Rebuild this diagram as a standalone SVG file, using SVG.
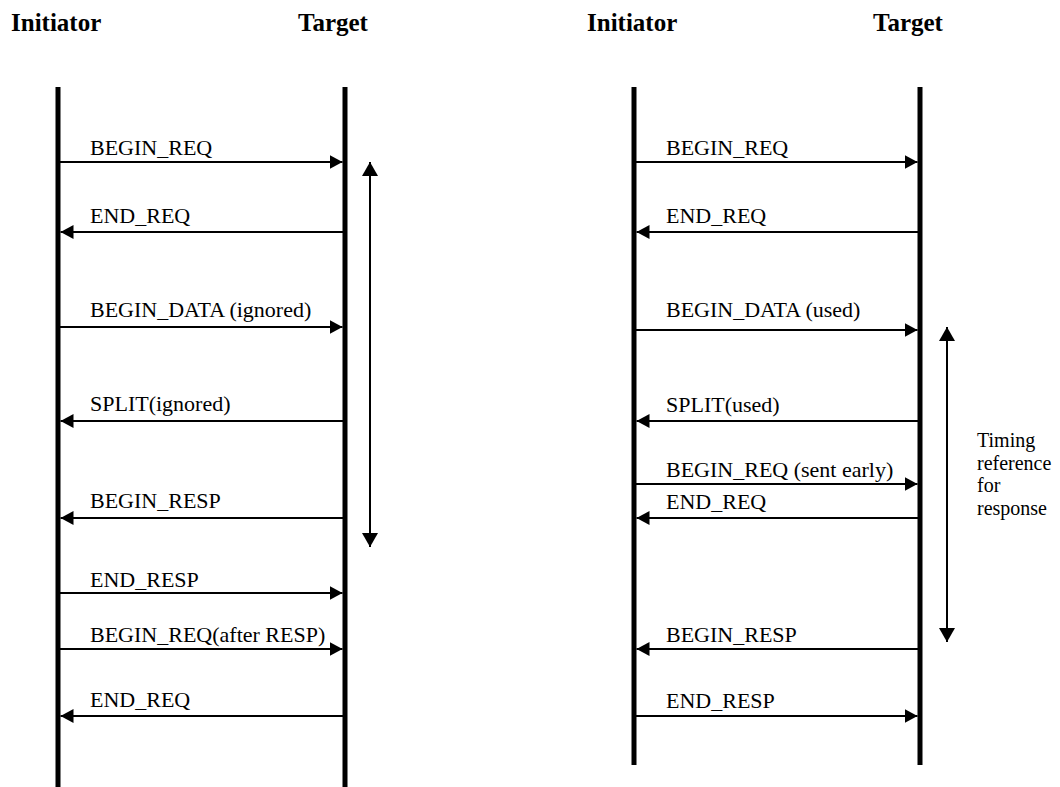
<svg xmlns="http://www.w3.org/2000/svg" width="1060" height="787" viewBox="0 0 1060 787">
<style>
.hd{font-weight:bold;font-size:25px;fill:#000}
.lb{font-size:22px;fill:#000}
.tm{font-size:20px;fill:#000}
.life{stroke:#000;stroke-width:5;fill:none}
.msg{stroke:#000;stroke-width:2;fill:none;marker-end:url(#ah)}
.tim{stroke:#000;stroke-width:2;fill:none;marker-start:url(#vh);marker-end:url(#vh)}
</style>
<defs>
<marker id="ah" markerUnits="userSpaceOnUse" markerWidth="13" markerHeight="14" refX="13" refY="7" orient="auto" viewBox="0 0 13 14"><path d="M0,0 L13,7 L0,14 z" fill="#000"/></marker>
<marker id="vh" markerUnits="userSpaceOnUse" markerWidth="14" markerHeight="16" refX="14" refY="8" orient="auto-start-reverse" viewBox="0 0 14 16"><path d="M0,0 L14,8 L0,16 z" fill="#000"/></marker>
</defs>
<rect width="1060" height="787" fill="#fff"/>
<g font-family="Liberation Serif, Times New Roman, serif">
<g id="left-initiator"><text class="hd" x="11" y="31">Initiator</text><line class="life" x1="58" y1="87" x2="58" y2="787"/></g>
<g id="left-target"><text class="hd" x="298" y="31">Target</text><line class="life" x1="345" y1="87" x2="345" y2="787"/></g>
<g id="right-initiator"><text class="hd" x="587" y="31">Initiator</text><line class="life" x1="634" y1="87" x2="634" y2="765"/></g>
<g id="right-target"><text class="hd" x="873" y="31">Target</text><line class="life" x1="920" y1="87" x2="920" y2="765"/></g>
<g id="connectors">
<line class="msg" x1="60" y1="162" x2="342.5" y2="162"/>
<line class="msg" x1="343" y1="232" x2="60.5" y2="232"/>
<line class="msg" x1="60" y1="327" x2="342.5" y2="327"/>
<line class="msg" x1="343" y1="421" x2="60.5" y2="421"/>
<line class="msg" x1="343" y1="518" x2="60.5" y2="518"/>
<line class="msg" x1="60" y1="593" x2="342.5" y2="593"/>
<line class="msg" x1="60" y1="649" x2="342.5" y2="649"/>
<line class="msg" x1="343" y1="716" x2="60.5" y2="716"/>
<line class="tim" x1="370" y1="162" x2="370" y2="547"/>
<line class="msg" x1="636" y1="162" x2="917.5" y2="162"/>
<line class="msg" x1="918" y1="232" x2="636.5" y2="232"/>
<line class="msg" x1="636" y1="330" x2="917.5" y2="330"/>
<line class="msg" x1="918" y1="421" x2="636.5" y2="421"/>
<line class="msg" x1="636" y1="484" x2="917.5" y2="484"/>
<line class="msg" x1="918" y1="518" x2="636.5" y2="518"/>
<line class="msg" x1="918" y1="649" x2="636.5" y2="649"/>
<line class="msg" x1="636" y1="716" x2="917.5" y2="716"/>
<line class="tim" x1="947" y1="327" x2="947" y2="642"/>
</g>
<g id="labels">
<text class="lb" x="90" y="155">BEGIN_REQ</text>
<text class="lb" x="90" y="223">END_REQ</text>
<text class="lb" x="90" y="317">BEGIN_DATA (ignored)</text>
<text class="lb" x="90" y="411">SPLIT(ignored)</text>
<text class="lb" x="90" y="508">BEGIN_RESP</text>
<text class="lb" x="90" y="587">END_RESP</text>
<text class="lb" x="90" y="642">BEGIN_REQ(after RESP)</text>
<text class="lb" x="90" y="707">END_REQ</text>
<text class="lb" x="666" y="155">BEGIN_REQ</text>
<text class="lb" x="666" y="223">END_REQ</text>
<text class="lb" x="666" y="317">BEGIN_DATA (used)</text>
<text class="lb" x="666" y="412">SPLIT(used)</text>
<text class="lb" x="666" y="477">BEGIN_REQ (sent early)</text>
<text class="lb" x="666" y="509">END_REQ</text>
<text class="lb" x="666" y="642">BEGIN_RESP</text>
<text class="lb" x="666" y="708">END_RESP</text>
<text class="tm" x="977" y="447">Timing</text>
<text class="tm" x="977" y="469.5">reference</text>
<text class="tm" x="977" y="492">for</text>
<text class="tm" x="977" y="514.5">response</text>
</g>
</g>
</svg>
